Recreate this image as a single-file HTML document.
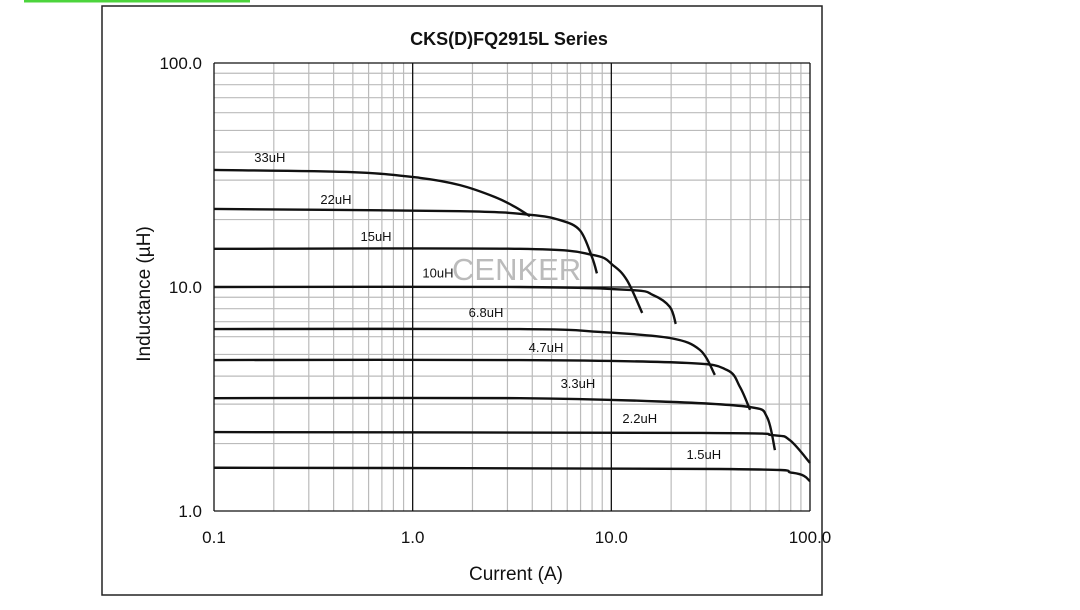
<!DOCTYPE html>
<html><head><meta charset="utf-8"><style>
html,body{margin:0;padding:0;background:#fff;width:1080px;height:610px;overflow:hidden}
svg{display:block;font-family:"Liberation Sans",Arial,sans-serif}
</style></head><body>
<svg id="chart" width="1080" height="610" viewBox="0 0 1080 610">
<rect x="24" y="0" width="226" height="2.5" fill="#4cd43c"/>
<rect x="102" y="6" width="720" height="589" fill="#fff" stroke="#222" stroke-width="1.5"/>
<text x="509" y="45" font-size="18" font-weight="bold" text-anchor="middle" fill="#111">CKS(D)FQ2915L Series</text>
<g id="grid"></g>
<text x="452" y="280" font-size="31" fill="#bbb">CENKER</text>
<g id="series"></g>
<g id="labels"></g>
<text transform="translate(150,294) rotate(-90)" font-size="19" text-anchor="middle" fill="#111">Inductance (µH)</text>
<text x="516" y="580" font-size="19" text-anchor="middle" fill="#111">Current (A)</text>
</svg>
<script>
const xTicks=[0.1,1,10,100];
const xTickLabels=["0.1","1.0","10.0","100.0"];
const yTicks=[1,10,100];
const yTickLabels=["1.0","10.0","100.0"];
const seriesNames=["33uH","22uH","15uH","10uH","6.8uH","4.7uH","3.3uH","2.2uH","1.5uH"];
const s33I=[0.1,0.483,1.09,1.73,2.6,3.27,3.89];
const s33L=[33.3,32.6,30.7,28.5,25.2,22.8,20.7];
const s22I=[0.1,1.73,3.89,5.51,6.95,7.99,8.46];
const s22L=[22.3,21.8,21.0,19.9,17.9,13.6,11.5];
const s15I=[0.1,3.47,8.08,10.2,12.0,14.3];
const s15L=[14.8,14.8,13.9,12.5,10.7,7.66];
const s10I=[0.1,3.47,12.4,16.2,19.7,21.1];
const s10L=[10.0,10.0,9.70,9.21,8.15,6.84];
const s68I=[0.1,3.47,8.77,19.7,27.9,33.2];
const s68L=[6.49,6.49,6.30,5.92,5.24,4.05];
const s47I=[0.1,3.47,24.0,38.2,44.4,49.9];
const s47L=[4.72,4.72,4.58,4.26,3.58,2.83];
const s33bI=[0.1,3.47,19.7,49.9,60.7,66.6];
const s33bL=[3.19,3.19,3.07,2.91,2.63,1.87];
const s22bI=[0.1,28.9,65.0,79.2,100];
const s22bL=[2.25,2.23,2.18,2.07,1.64];
const s15bI=[0.1,35.2,82.0,100];
const s15bL=[1.56,1.54,1.48,1.36];
const allI=[s33I,s22I,s15I,s10I,s68I,s47I,s33bI,s22bI,s15bI];
const allL=[s33L,s22L,s15L,s10L,s68L,s47L,s33bL,s22bL,s15bL];
const labelI=[0.191,0.411,0.654,1.34,2.34,4.69,6.79,13.9,29.2];
const labelL=[37.7,24.5,16.7,11.5,7.66,5.34,3.69,2.58,1.78];

const X0=214,X1=810,Y0=511,Y1=63;
const xs=v=>X0+(Math.log10(v)+1)/3*(X1-X0);
const ys=v=>Y0-Math.log10(v)/2*(Y0-Y1);
const NS="http://www.w3.org/2000/svg";
function mk(t,a,p){const e=document.createElementNS(NS,t);for(const k in a)e.setAttribute(k,a[k]);p.appendChild(e);return e;}
const grid=document.getElementById('grid');
for(let d=-1;d<2;d++)for(let m=2;m<=9;m++){const x=xs(m*Math.pow(10,d));
 const l=mk('line',{x1:x,x2:x,y1:Y1,y2:Y0,stroke:'#bbb','stroke-width':1.2},grid);
 
 }
for(let d=0;d<2;d++)for(let m=2;m<=9;m++){const y=ys(m*Math.pow(10,d));
 const l=mk('line',{x1:X0,x2:X1,y1:y,y2:y,stroke:'#bbb','stroke-width':1.2},grid);
 
 }
xTicks.forEach((v,i)=>{const x=xs(v);
 const l=mk('line',{x1:x,x2:x,y1:Y1,y2:Y0,stroke:'#111','stroke-width':1.3},grid);
 
 
 const t=mk('text',{x:x,y:543,'font-size':17,'text-anchor':'middle',fill:'#111'},grid);t.textContent=xTickLabels[i];
 
 });
yTicks.forEach((v,i)=>{const y=ys(v);
 const l=mk('line',{x1:X0,x2:X1,y1:y,y2:y,stroke:'#111','stroke-width':1.3},grid);
 
 
 const t=mk('text',{x:202,y:y+6,'font-size':17,'text-anchor':'end',fill:'#111'},grid);t.textContent=yTickLabels[i];
 
 });
const sg=document.getElementById('series');
allI.forEach((arr,si)=>{
 const p=arr.map((v,i)=>[xs(v),ys(allL[si][i])]);
 let d='M'+p[0][0]+','+p[0][1];
 for(let i=0;i<p.length-1;i++){const a=p[Math.max(i-1,0)],b=p[i],c=p[i+1],e=p[Math.min(i+2,p.length-1)];
  d+=' C'+(b[0]+(c[0]-a[0])/6)+','+(b[1]+(c[1]-a[1])/6)+' '+(c[0]-(e[0]-b[0])/6)+','+(c[1]-(e[1]-b[1])/6)+' '+c[0]+','+c[1];}
 const path=mk('path',{d:d,fill:'none',stroke:'#111','stroke-width':2.4},sg);
 
 
});
const lg=document.getElementById('labels');
seriesNames.forEach((n,i)=>{
 const t=mk('text',{x:xs(labelI[i]),y:ys(labelL[i])+4,'font-size':13,'text-anchor':'middle',fill:'#111'},lg);t.textContent=n;
 
 });
</script>
</body></html>
